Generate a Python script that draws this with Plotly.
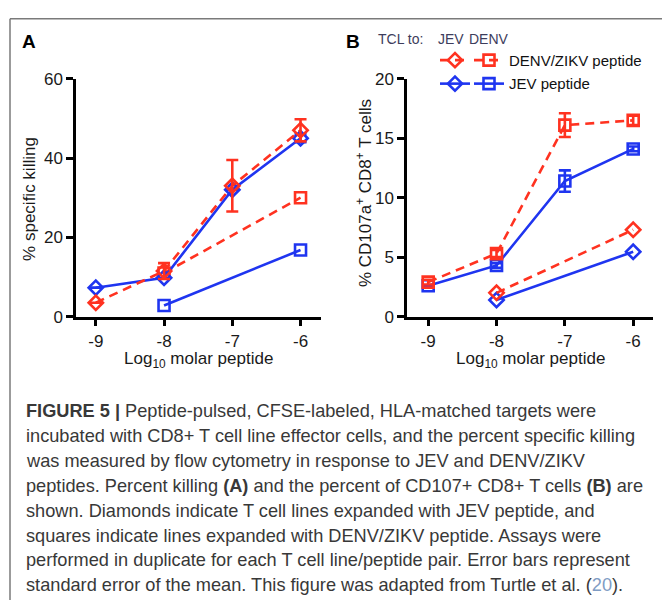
import plotly.graph_objects as go

W, H = 662, 610

def px(x):
    return x / W

def py(y):
    return 1 - y / H

# ---------------- data ----------------
doses = [-9, -8, -7, -6]
x_ticks = ["-9", "-8", "-7", "-6"]

# Panel A: % specific killing
a_jev_tcl_denv_pep = [3.5, 11.5, 33.0, 47.0]
a_jev_tcl_denv_pep_err = [0, 2.0, 6.5, 2.8]
a_jev_tcl_jev_pep = [7.3, 9.8, 32.0, 45.0]
a_jev_tcl_jev_pep_err = [0, 0, 0, 1.0]
a_denv_tcl_denv_pep = [None, 11.0, None, 30.0]
a_denv_tcl_jev_pep = [None, 2.8, None, 16.8]

# Panel B: % CD107a+ CD8+ T cells
b_jev_tcl_denv_pep = [None, 2.0, None, 7.3]
b_jev_tcl_jev_pep = [None, 1.4, None, 5.45]
b_denv_tcl_denv_pep = [2.9, 5.3, 16.1, 16.5]
b_denv_tcl_denv_pep_err = [0.2, 0.3, 1.0, 0.4]
b_denv_tcl_jev_pep = [2.6, 4.3, 11.4, 14.1]
b_denv_tcl_jev_pep_err = [0, 0.2, 0.9, 0.2]

RED = "#FF3220"
BLUE = "#1F35F0"
LW = 2.6

fig = go.Figure()


def add(xa, ya, y, color, dash, symbol, size, err=None):
    tr = dict(
        x=doses, y=y, xaxis=xa, yaxis=ya, mode="lines+markers", connectgaps=True,
        line=dict(color=color, width=LW, dash=dash),
        marker=dict(symbol=symbol, size=size, color=color, line=dict(color=color, width=LW)),
        showlegend=False,
    )
    if err is not None:
        tr["error_y"] = dict(type="data", array=err, visible=True, color=color,
                             thickness=LW, width=6)
    fig.add_trace(go.Scatter(**tr))

DASH = "9px,6px"
# Panel A
add("x", "y", a_denv_tcl_jev_pep, BLUE, "solid", "square-open", 11)
add("x", "y", a_denv_tcl_denv_pep, RED, DASH, "square-open", 11)
add("x", "y", a_jev_tcl_jev_pep, BLUE, "solid", "diamond-open", 11, a_jev_tcl_jev_pep_err)
add("x", "y", a_jev_tcl_denv_pep, RED, DASH, "diamond-open", 11, a_jev_tcl_denv_pep_err)
# Panel B
add("x2", "y2", b_jev_tcl_jev_pep, BLUE, "solid", "diamond-open", 11)
add("x2", "y2", b_jev_tcl_denv_pep, RED, DASH, "diamond-open", 11)
add("x2", "y2", b_denv_tcl_jev_pep, BLUE, "solid", "square-open", 11, b_denv_tcl_jev_pep_err)
add("x2", "y2", b_denv_tcl_denv_pep, RED, DASH, "square-open", 11, b_denv_tcl_denv_pep_err)

# legend entries (no data drawn)
def leg(color, dash, symbol, name, legend, group):
    fig.add_trace(go.Scatter(
        x=[None], y=[None], xaxis="x2", yaxis="y2", mode="lines+markers",
        line=dict(color=color, width=LW, dash=dash),
        marker=dict(symbol=symbol, size=11, color=color, line=dict(color=color, width=LW)),
        name=name, legend=legend, legendgroup=group, showlegend=True))

leg(RED, DASH, "diamond-open", " ", "legend", "a")
leg(BLUE, "solid", "diamond-open", " ", "legend", "b")
leg(RED, DASH, "square-open", "DENV/ZIKV peptide", "legend2", "c")
leg(BLUE, "solid", "square-open", "JEV peptide", "legend2", "d")

FONT = "Liberation Sans, Arial, sans-serif"
tickfont = dict(family=FONT, size=17, color="#1a1a1a")
axis_common = dict(
    showline=True, linecolor="black", linewidth=2.5, ticks="outside", ticklen=7,
    tickwidth=2.5, tickcolor="black", showgrid=False, zeroline=False, tickfont=tickfont,
)

legfont = dict(family=FONT, size=15, color="#111")
ydom = [py(317.5), py(72)]
fig.update_layout(
    width=W, height=H, margin=dict(l=0, r=0, t=0, b=0),
    paper_bgcolor="white", plot_bgcolor="white",
    xaxis=dict(domain=[px(76), px(321)], range=[-9.29, -5.70], tickvals=doses, ticktext=x_ticks,
               anchor="y", **axis_common),
    yaxis=dict(domain=ydom, range=[0, 60], tickvals=[0, 20, 40, 60], anchor="x", **axis_common),
    xaxis2=dict(domain=[px(407), px(653)], range=[-9.31, -5.71], tickvals=doses, ticktext=x_ticks,
                anchor="y2", **axis_common),
    yaxis2=dict(domain=ydom, range=[0, 20], tickvals=[0, 5, 10, 15, 20], anchor="x2", **axis_common),
    legend=dict(x=px(435), y=py(36), xanchor="left", yanchor="top", bgcolor="rgba(0,0,0,0)",
                font=legfont, tracegroupgap=1, traceorder="grouped", itemwidth=30),
    legend2=dict(x=px(469), y=py(36), xanchor="left", yanchor="top", bgcolor="rgba(0,0,0,0)",
                 font=legfont, tracegroupgap=1, traceorder="grouped", itemwidth=30),
    showlegend=True,
)

ann = []
def text(x, y, s, size, color="#111", anchor="left", angle=0):
    ann.append(dict(x=px(x), y=py(y), xref="paper", yref="paper", text=s, showarrow=False,
                    xanchor=anchor, yanchor="middle", textangle=angle,
                    font=dict(family=FONT, size=size, color=color)))

text(28.5, 34, "<b>A</b>", 19, "black", "center")
text(352.5, 34, "<b>B</b>", 19, "black", "center")
text(376.5, 31, "TCL to:", 14, "#3d3d5c")
text(436, 31, "JEV", 14, "#3d3d5c")
text(467, 31, "DENV", 14, "#3d3d5c")
text(30, 196, "% specific killing", 17, "#1a1a1a", "center", -90)
text(364, 190, "% CD107a<sup>+</sup> CD8<sup>+</sup> T cells", 17, "#1a1a1a", "center", -90)
text(198.5, 362, "Log<sub>10</sub> molar peptide", 17, "#1a1a1a", "center")
text(530, 362, "Log<sub>10</sub> molar peptide", 17, "#1a1a1a", "center")

caption = [
    "<b>FIGURE 5 |</b> Peptide-pulsed, CFSE-labeled, HLA-matched targets were",
    "incubated with CD8+ T cell line effector cells, and the percent specific killing",
    "was measured by flow cytometry in response to JEV and DENV/ZIKV",
    "peptides. Percent killing <b>(A)</b> and the percent of CD107+ CD8+ T cells <b>(B)</b> are",
    "shown. Diamonds indicate T cell lines expanded with JEV peptide, and",
    "squares indicate lines expanded with DENV/ZIKV peptide. Assays were",
    "performed in duplicate for each T cell line/peptide pair. Error bars represent",
    "standard error of the mean. This figure was adapted from Turtle et al. (<span style='color:#7f9cc4'>20</span>).",
]
for i, line in enumerate(caption):
    text(24, 415 + i * 25.7, line, 18.2, "#383838")

fig.update_layout(annotations=ann)

fig.update_layout(shapes=[
    dict(type="line", xref="paper", yref="paper", x0=px(10), x1=1, y0=py(10), y1=py(10),
         line=dict(color="#7a7a7a", width=1.5)),
    dict(type="line", xref="paper", yref="paper", x0=px(10), x1=px(10), y0=py(10), y1=0,
         line=dict(color="#7a7a7a", width=1.5)),
])

fig.write_html("out.html", config={"displayModeBar": False},
               post_script="document.body.style.margin='0px';document.body.style.overflow='hidden';")
